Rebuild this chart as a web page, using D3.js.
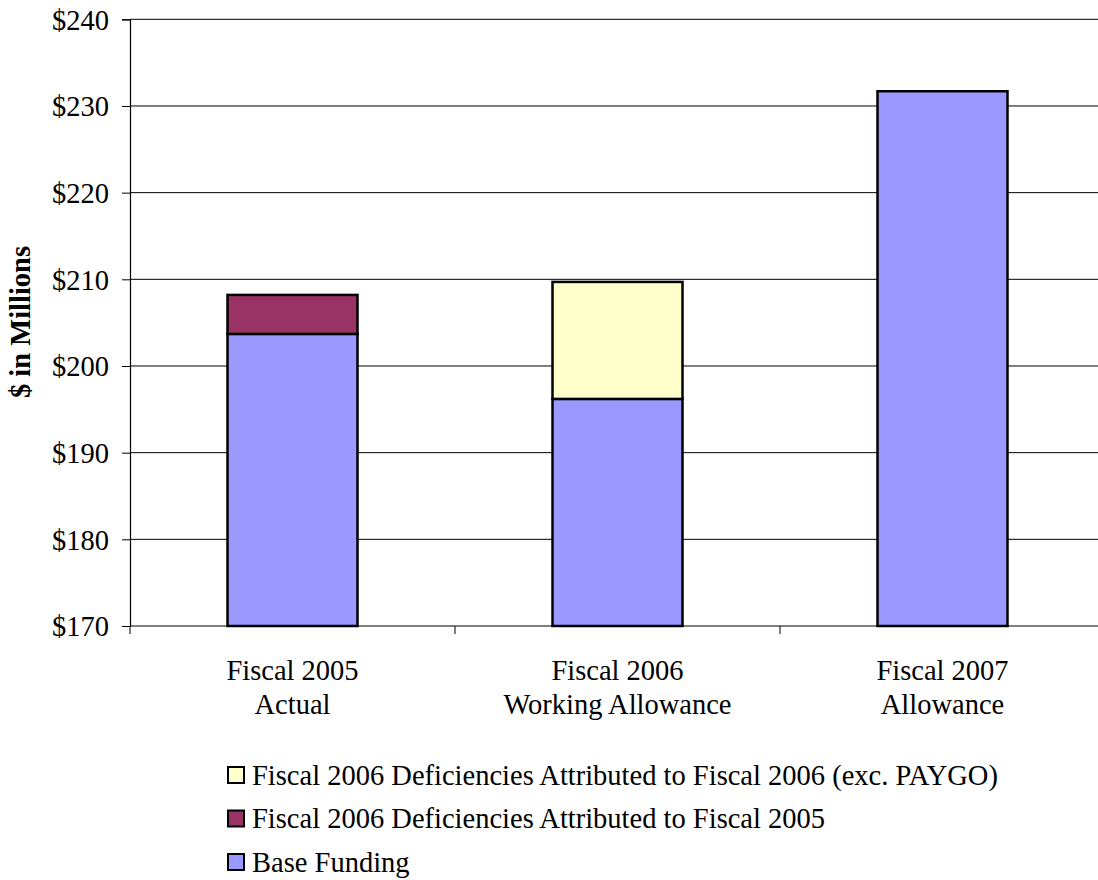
<!DOCTYPE html>
<html>
<head>
<meta charset="utf-8">
<script src="https://cdn.jsdelivr.net/npm/d3@7"></script>
<style>
  html, body { margin: 0; padding: 0; background: #fff; }
  svg text { font-family: "Liberation Serif", "Times New Roman", serif; fill: #000; }
</style>
</head>
<body>
<svg id="chart" width="1098" height="880"></svg>
<script>
// Budget categories (two-line labels)
const categories = ["Fiscal 2005|Actual", "Fiscal 2006|Working Allowance", "Fiscal 2007|Allowance"];

// Series values, $ in millions
const baseFunding = [203.7, 196.2, 231.7];
const deficiencies2005 = [4.5, 0, 0];
const deficiencies2006 = [0, 13.5, 0];

const yTicks = [170, 180, 190, 200, 210, 220, 230, 240];

const seriesNames = [
  "Base Funding",
  "Fiscal 2006 Deficiencies Attributed to Fiscal 2005",
  "Fiscal 2006 Deficiencies Attributed to Fiscal 2006 (exc. PAYGO)"
];
const seriesColors = ["#9999FF", "#993366", "#FFFFCC"];

const FONT = '"Liberation Serif", "Times New Roman", serif';
const FS = "28.5px";

const svg = d3.select("#chart");
const plot = { left: 130, right: 1105, top: 19.3, bottom: 626 };

const x = d3.scaleBand()
  .domain(categories)
  .range([plot.left, plot.right])
  .paddingInner(0.6)
  .paddingOuter(0.3);

const y = d3.scaleLinear().domain([170, 240]).range([plot.bottom, plot.top]);

// Horizontal gridlines
svg.append("g")
  .selectAll("line")
  .data(yTicks.slice(1))
  .join("line")
  .attr("x1", plot.left).attr("x2", plot.right)
  .attr("y1", d => y(d)).attr("y2", d => y(d))
  .attr("stroke", "#000").attr("stroke-width", 1);

// Stacked bars
const rows = categories.map((c, i) => ({
  cat: c,
  s0: baseFunding[i], s1: deficiencies2005[i], s2: deficiencies2006[i]
}));
const stack = d3.stack().keys(["s0", "s1", "s2"])(rows);

stack.forEach((layer, li) => {
  svg.append("g")
    .selectAll("rect")
    .data(layer.filter(d => d[1] - d[0] > 0))
    .join("rect")
    .attr("x", d => x(d.data.cat))
    .attr("width", x.bandwidth())
    .attr("y", d => y(d[1]))
    .attr("height", d => y(li === 0 ? 170 : d[0]) - y(d[1]))
    .attr("fill", seriesColors[li])
    .attr("stroke", "#000")
    .attr("stroke-width", 2.5);
});

// Y axis
const yAxis = d3.axisLeft(y)
  .tickValues(yTicks)
  .tickSize(8)
  .tickFormat(d => "$" + d);
const gy = svg.append("g")
  .attr("transform", `translate(${plot.left},0)`)
  .call(yAxis);
gy.select(".domain").attr("stroke", "#000").attr("stroke-width", 1.2);
gy.selectAll(".tick line").attr("stroke", "#000");
gy.selectAll(".tick text")
  .attr("x", -21)
  .attr("dy", "0.34em")
  .style("font-family", FONT)
  .style("font-size", FS);

// X axis: tick marks at category boundaries
svg.append("line")
  .attr("x1", plot.left).attr("x2", plot.right)
  .attr("y1", plot.bottom).attr("y2", plot.bottom)
  .attr("stroke", "#000").attr("stroke-width", 1.2);
const boundaries = d3.range(categories.length + 1)
  .map(i => plot.left + i * (plot.right - plot.left) / categories.length);
svg.append("g")
  .selectAll("line")
  .data(boundaries)
  .join("line")
  .attr("x1", d => d).attr("x2", d => d)
  .attr("y1", plot.bottom).attr("y2", plot.bottom + 8)
  .attr("stroke", "#000");

// Category labels
const catLabels = svg.append("g")
  .selectAll("text")
  .data(categories)
  .join("text")
  .attr("x", d => x(d) + x.bandwidth() / 2)
  .attr("y", 680)
  .attr("text-anchor", "middle")
  .style("font-family", FONT)
  .style("font-size", FS);
catLabels.each(function(d) {
  const parts = d.split("|");
  const t = d3.select(this);
  parts.forEach((p, i) => {
    t.append("tspan")
      .attr("x", t.attr("x"))
      .attr("dy", i === 0 ? 0 : 34)
      .text(p);
  });
});

// Y axis title
svg.append("text")
  .attr("transform", "translate(30,322) rotate(-90)")
  .attr("text-anchor", "middle")
  .style("font-family", FONT)
  .style("font-size", FS)
  .style("font-weight", "bold")
  .text("$ in Millions");

// Legend (reverse stacking order)
const legendOrder = [2, 1, 0];
const legend = svg.append("g")
  .selectAll("g")
  .data(legendOrder)
  .join("g")
  .attr("transform", (d, i) => `translate(228,${767 + i * 43.5})`);
legend.append("rect")
  .attr("width", 16).attr("height", 16)
  .attr("fill", d => seriesColors[d])
  .attr("stroke", "#000").attr("stroke-width", 2);
legend.append("text")
  .attr("x", 24).attr("y", 8)
  .attr("dy", "0.35em")
  .style("font-family", FONT)
  .style("font-size", FS)
  .text(d => seriesNames[d]);
</script>
</body>
</html>
